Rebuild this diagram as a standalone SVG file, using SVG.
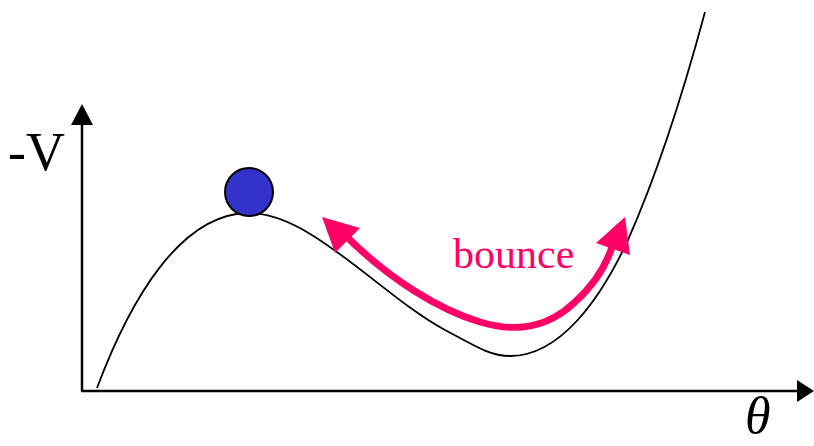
<svg xmlns="http://www.w3.org/2000/svg" width="814" height="446" viewBox="0 0 814 446">
<defs>
<style>
.axis{stroke:#000;stroke-width:2.5;fill:none}
.curve{stroke:#000;stroke-width:1.8;fill:none}
.bounce{stroke:#ff0066;stroke-width:7;fill:none;stroke-linecap:butt}
.head{fill:#ff0066}
.lbl{font-family:"Liberation Serif","Times New Roman",serif}
</style>
</defs>
<rect width="814" height="446" fill="#fff"/>
<g id="axes">
<line class="axis" x1="82" y1="391" x2="82" y2="122"/>
<polygon points="82,104 71,125 93,125" fill="#000"/>
<line class="axis" x1="81" y1="391" x2="798" y2="391"/>
<polygon points="814,391 797,380 797,402" fill="#000"/>
<text class="lbl" x="8" y="170" font-size="54">-V</text>
<text class="lbl" x="745" y="433" font-size="52" font-style="italic">θ</text>
</g>
<g id="potential">
<path class="curve" d="M97,388 C130,300 180,214 248,213 C310,212 380,295 445,330 C475,346 490,356 510,356 C560,356 600,300 628,240 C658,172 684,90 705,12"/>
</g>
<g id="ball">
<circle cx="249" cy="192" r="24" fill="#3333cc" stroke="#000" stroke-width="2"/>
</g>
<g id="connectors">
<path class="bounce" d="M346,236 C390,280 440,310 480,322 C520,334 550,326 575,302 C595,284 606,265 612,247"/>
<polygon class="head" points="322,217 360,228 335,253"/>
<polygon class="head" points="625,217 596,243 630,255"/>
</g>
<g id="label">
<text class="lbl" x="453" y="268" font-size="42" fill="#ff0066">bounce</text>
</g>
</svg>
